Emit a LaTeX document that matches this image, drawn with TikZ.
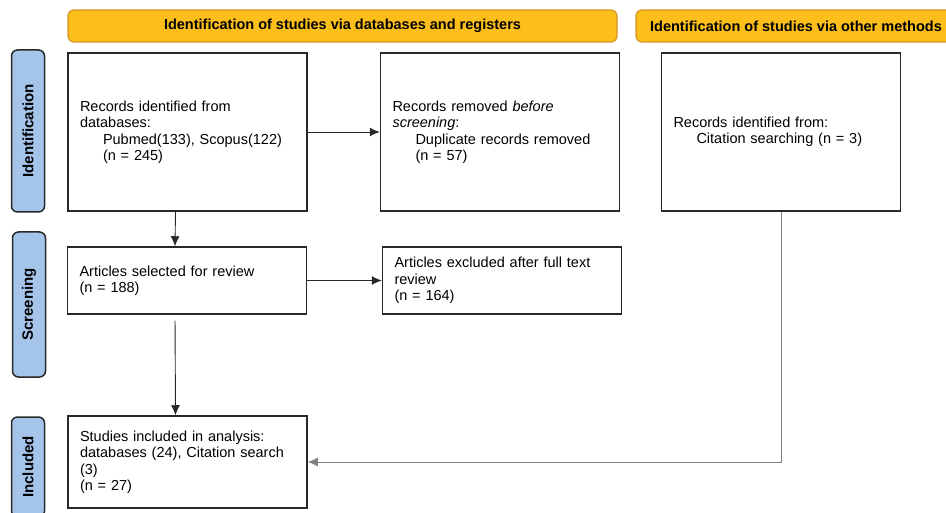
\documentclass[tikz,border=0pt]{standalone}
\usepackage{fontspec}
\setmainfont{Liberation Sans}
\usetikzlibrary{arrows.meta}

\definecolor{hdrfill}{RGB}{251,190,26}
\definecolor{hdrline}{RGB}{214,150,40}
\definecolor{tabfill}{RGB}{164,196,234}
\definecolor{boxline}{RGB}{40,40,40}

\def\W{239}
\def\ind{\hspace*{23pt}}

\begin{document}
\begin{tikzpicture}[x=1pt, y=-1pt,
    every node/.style={font=\fontsize{14.5pt}{16.5pt}\selectfont},
    hdr/.style={draw=hdrline, fill=hdrfill, line width=1.2pt, rounded corners=6pt,
        minimum height=32pt, inner sep=0pt, font=\fontsize{14.5pt}{16pt}\selectfont\bfseries},
    tab/.style={draw=boxline, fill=tabfill, line width=1.5pt, rounded corners=6pt, rotate=90,
        minimum height=33pt, inner sep=0pt, font=\fontsize{15pt}{17pt}\selectfont\bfseries},
    box/.style={draw=boxline, line width=1.5pt, minimum width=\W pt, text width=\W pt-24pt,
        inner xsep=12pt, align=left},
    arr/.style={-{Latex[length=10pt,width=9pt]}, line width=0.9pt, draw=boxline}
]
        \clip (0,0) rectangle (946,513);
        \fill[white] (0,0) rectangle (946,513);

        % headers
        \node[hdr, minimum width=549pt] (hdrdb) at (342.5,26) {Identification of studies via databases and registers};
        \node[hdr, minimum width=320pt] (hdroth) at (796,26) {Identification of studies via other methods};

        % side tabs
        \node[tab, minimum width=162pt] (tabid) at (28,131) {Identification};
        \node[tab, minimum width=145pt] (tabscr) at (29,304.5) {Screening};
        \node[tab, minimum width=100pt] (tabinc) at (28,467) {Included};

        % identification
        \node[box, minimum height=158pt] (rec) at (187.5,132)
            {Records identified from\\databases:\\\ind Pubmed(133), Scopus(122)\\\ind(n = 245)};
        \node[box, minimum height=158pt] (dup) at (500,132)
            {Records removed \textit{before}\\\textit{screening}:\\\ind Duplicate records removed\\\ind(n = 57)};
        \node[box, minimum height=158pt] (cit) at (781,132)
            {Records identified from:\\\ind Citation searching (n = 3)};

        % screening
        \node[box, minimum height=67pt] (sel) at (187,280.5)
            {Articles selected for review\\(n = 188)};
        \node[box, minimum height=67pt] (exc) at (502,280.5)
            {Articles excluded after full text\\review\\(n = 164)};

        % included
        \node[box, minimum height=92pt] (inc) at (187.5,462)
            {Studies included in analysis:\\databases (24), Citation search\\(3)\\(n = 27)};

        \draw[arr] (rec.east) -- (dup.west);
        \draw[arr] ([xshift=-12pt]rec.south) -- ([xshift=-12pt]sel.north);
        \draw[arr] (sel.east) -- (exc.west);
        \draw[arr, shorten <=6pt] ([xshift=-12pt]sel.south) -- ([xshift=-12pt]inc.north);
        \draw[arr, draw=gray] (cit.south) |- (inc.east);

\end{tikzpicture}
\end{document}
